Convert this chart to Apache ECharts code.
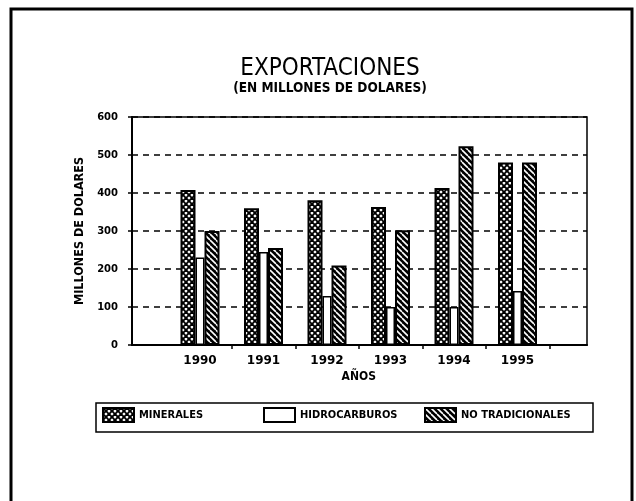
<!DOCTYPE html>
<html><head><meta charset="utf-8">
<script src="https://cdn.jsdelivr.net/npm/echarts@6/dist/echarts.min.js"></script>
<style>html,body{margin:0;padding:0;background:#fff}#c{width:636px;height:501px}</style>
</head><body><div id="c"></div>
<script>
const categories = ['1990', '1991', '1992', '1993', '1994', '1995'];
const minerales = [408, 360, 381, 363, 413, 480];
const hidrocarburos = [230, 245, 129, 100, 100, 142];
const noTradicionales = [300, 255, 209, 302, 523, 480];
const seriesNames = ['MINERALES', 'HIDROCARBUROS', 'NO TRADICIONALES'];
const yMin = 0, yMax = 600, yStep = 100;

function makePattern(type) {
  const s = 6;
  const c = document.createElement('canvas');
  c.width = s; c.height = s;
  const g = c.getContext('2d');
  if (type === 'cross') {
    g.fillStyle = '#fff'; g.fillRect(0, 0, s, s);
    g.strokeStyle = '#000'; g.lineWidth = 1.9;
    for (const k of [-s, 0, s]) {
      g.beginPath(); g.moveTo(k, 0); g.lineTo(k + s, s); g.stroke();
      g.beginPath(); g.moveTo(k + s, 0); g.lineTo(k, s); g.stroke();
    }
  } else {
    g.fillStyle = '#000'; g.fillRect(0, 0, s, s);
    g.strokeStyle = '#fff'; g.lineWidth = 1.6;
    for (const k of [-s, 0, s]) {
      g.beginPath(); g.moveTo(k, 0); g.lineTo(k + s, s); g.stroke();
    }
  }
  return { image: c, repeat: 'repeat' };
}

const FONT = '"DejaVu Sans Condensed", "DejaVu Sans", sans-serif';
const chart = echarts.init(document.getElementById('c'), null, { renderer: 'canvas' });
const legendText = { fontFamily: FONT, fontWeight: 'bold', fontSize: 11, color: '#000' };
const mkLegend = (name, left) => ({
  data: [name], left: left, top: 407, itemWidth: 31, itemHeight: 14, padding: 0,
  icon: 'rect', textStyle: legendText, selectedMode: false
});

chart.setOption({
  animation: false,
  backgroundColor: '#fff',
  graphic: [
    { type: 'rect', shape: { x: 11, y: 9, width: 621, height: 530 }, style: { fill: null, stroke: '#000', lineWidth: 3 }, z: -1 },
    { type: 'rect', shape: { x: 96, y: 403, width: 497, height: 29 }, style: { fill: null, stroke: '#000', lineWidth: 1.5 }, z: -1 },
    { type: 'text', x: 330, y: 57, style: { text: 'EXPORTACIONES', fill: '#000', font: '24px ' + FONT, textAlign: 'center', textVerticalAlign: 'top' } },
    { type: 'text', x: 330, y: 81, style: { text: '(EN MILLONES DE DOLARES)', fill: '#000', font: 'bold 13.5px ' + FONT, textAlign: 'center', textVerticalAlign: 'top' } }
  ],
  legend: [
    mkLegend(seriesNames[0], 102),
    mkLegend(seriesNames[1], 263),
    mkLegend(seriesNames[2], 424)
  ],
  grid: [
    { left: 132, top: 117, width: 455, height: 228, show: true, borderColor: '#000', borderWidth: 1.5, backgroundColor: 'transparent' },
    { left: 168.25, top: 117, width: 381, height: 228 }
  ],
  xAxis: [
    { gridIndex: 0, type: 'value', min: 0, max: 1, axisLine: { show: true, lineStyle: { color: '#000', width: 2 } },
      axisTick: { show: false }, axisLabel: { show: false }, splitLine: { show: false } },
    { gridIndex: 1, type: 'category', data: categories, axisLine: { show: false },
      axisTick: { show: true, length: 4, interval: (i) => i > 0, lineStyle: { color: '#000', width: 1.5 } },
      axisLabel: { fontFamily: 'DejaVu Sans', fontWeight: 'bold', fontSize: 12, color: '#000', margin: 10 },
      name: 'AÑOS', nameLocation: 'middle', nameGap: 26,
      nameTextStyle: { fontFamily: FONT, fontWeight: 'bold', fontSize: 12, color: '#000' } }
  ],
  yAxis: [
    { gridIndex: 0, type: 'value', min: yMin, max: yMax, interval: yStep,
      axisLine: { show: true, lineStyle: { color: '#000', width: 2 } },
      axisTick: { show: true, length: 4, lineStyle: { color: '#000', width: 1.5 } },
      axisLabel: { fontFamily: 'DejaVu Sans', fontWeight: 'bold', fontSize: 10, color: '#000', margin: 14 },
      splitLine: { show: true, lineStyle: { color: '#000', type: [6, 5], width: 1.5 } },
      name: 'MILLONES DE DOLARES', nameLocation: 'middle', nameGap: 39, nameRotate: 90,
      nameTextStyle: { fontFamily: FONT, fontWeight: 'bold', fontSize: 12.5, color: '#000' } },
    { gridIndex: 1, type: 'value', min: yMin, max: yMax, interval: yStep, show: false, splitLine: { show: false } }
  ],
  series: [
    { name: seriesNames[0], type: 'bar', xAxisIndex: 1, yAxisIndex: 1, data: minerales, barWidth: 15, barGap: '0%',
      itemStyle: { color: makePattern('cross'), borderColor: '#000', borderWidth: 2 }, emphasis: { disabled: true } },
    { name: seriesNames[1], type: 'bar', xAxisIndex: 1, yAxisIndex: 1, data: hidrocarburos, barWidth: 9, barGap: '0%',
      itemStyle: { color: '#fff', borderColor: '#000', borderWidth: 1.5 }, emphasis: { disabled: true } },
    { name: seriesNames[2], type: 'bar', xAxisIndex: 1, yAxisIndex: 1, data: noTradicionales, barWidth: 15, barGap: '0%',
      itemStyle: { color: makePattern('stripe'), borderColor: '#000', borderWidth: 2 }, emphasis: { disabled: true } }
  ]
});
</script></body></html>
